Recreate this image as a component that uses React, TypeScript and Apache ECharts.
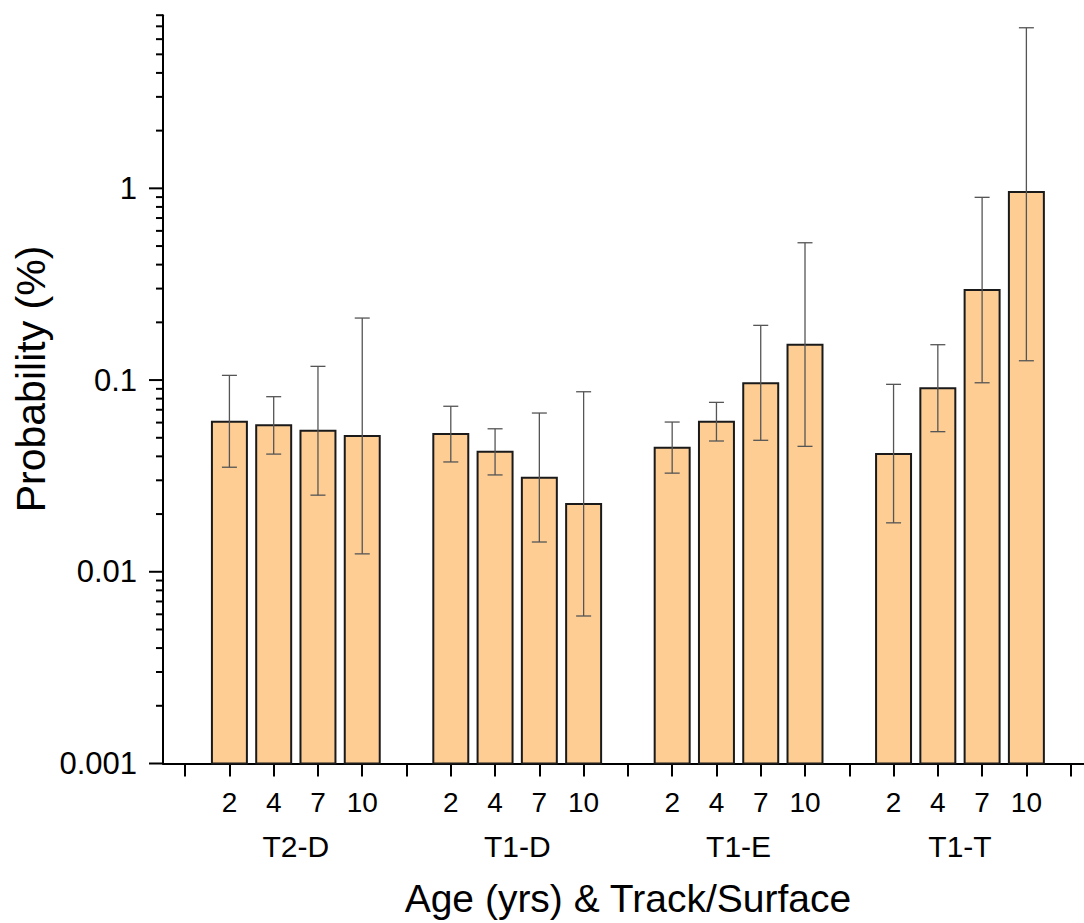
import React, { useEffect, useRef } from "react";
import * as echarts from "echarts";

const groups = ["T2-D", "T1-D", "T1-E", "T1-T"];
const ages = ["2", "4", "7", "10"];

// Probability (%), per group, for ages 2, 4, 7, 10
const meanT2D = [0.0606, 0.0581, 0.0544, 0.0511];
const meanT1D = [0.0523, 0.0423, 0.0309, 0.0226];
const meanT1E = [0.0444, 0.0606, 0.0961, 0.1529];
const meanT1T = [0.0411, 0.0905, 0.2948, 0.9565];

const upperT2D = [0.1058, 0.0819, 0.1179, 0.2106];
const upperT1D = [0.0730, 0.0557, 0.0673, 0.0869];
const upperT1E = [0.0604, 0.0765, 0.1929, 0.5202];
const upperT1T = [0.0950, 0.1529, 0.8977, 6.88];

const lowerT2D = [0.0351, 0.0411, 0.0251, 0.0124];
const lowerT1D = [0.0374, 0.0320, 0.0143, 0.00588];
const lowerT1E = [0.0327, 0.0481, 0.0485, 0.0451];
const lowerT1T = [0.0180, 0.0538, 0.0968, 0.1261];

const means = [meanT2D, meanT1D, meanT1E, meanT1T];
const uppers = [upperT2D, upperT1D, upperT1E, upperT1T];
const lowers = [lowerT2D, lowerT1D, lowerT1E, lowerT1T];

const Y_MIN = 0.001;
const Y_MAX = 8;
const majorTicks = [0.001, 0.01, 0.1, 1];
const minorMultipliers = [2, 3, 4, 5, 6, 7, 8, 9];

const FONT = "'Liberation Sans', Arial, Helvetica, sans-serif";

export default function App() {
  const ref = useRef<HTMLDivElement>(null);

  useEffect(() => {
    if (!ref.current) return;
    const chart = echarts.init(ref.current, undefined, { renderer: "svg" });

    // category slots: separator, 4 ages, separator, ... separator
    const slots: string[] = [];
    groups.forEach(() => {
      slots.push("");
      ages.forEach((a) => slots.push(a));
    });
    slots.push("");

    const barData: number[][] = [];
    const errData: number[][] = [];
    groups.forEach((g, gi) => {
      ages.forEach((a, ai) => {
        const slot = gi * 5 + 1 + ai;
        barData.push([slot, means[gi][ai]]);
        errData.push([slot, lowers[gi][ai], uppers[gi][ai]]);
      });
    });

    const tickData: number[][] = [];
    majorTicks.forEach((m) => {
      tickData.push([0, m, 1]);
      minorMultipliers.forEach((k) => {
        const v = m * k;
        if (v <= Y_MAX * 1.0001) tickData.push([0, v, 0]);
      });
    });

    const groupData = groups.map((g, gi) => [gi * 5 + 2, gi * 5 + 3, Y_MIN]);

    const option: any = {
      animation: false,
      backgroundColor: "#ffffff",
      grid: { left: 163, top: 15.2, width: 929.8, height: 748.3 },
      graphic: [
        {
          type: "text",
          x: 31,
          y: 379,
          rotation: Math.PI / 2,
          style: {
            text: "Probability (%)",
            fill: "#000",
            fontSize: 41,
            fontFamily: FONT,
            align: "center",
            verticalAlign: "middle",
          },
        },
      ],
      xAxis: {
        type: "category",
        data: slots,
        boundaryGap: true,
        name: "Age (yrs) & Track/Surface",
        nameLocation: "middle",
        nameGap: 115,
        nameTextStyle: { fontSize: 39, fontFamily: FONT, color: "#000" },
        axisLine: { show: true, lineStyle: { color: "#000", width: 2 } },
        axisTick: {
          show: true,
          alignWithLabel: true,
          interval: 0,
          length: 13,
          lineStyle: { color: "#000", width: 2 },
        },
        axisLabel: {
          interval: 0,
          margin: 25,
          fontSize: 28,
          fontFamily: FONT,
          color: "#000",
        },
        splitLine: { show: false },
      },
      yAxis: {
        type: "log",
        logBase: 10,
        min: Y_MIN,
        max: Y_MAX,
        axisLine: { show: true, lineStyle: { color: "#000", width: 2 } },
        axisTick: { show: false },
        minorTick: { show: false },
        splitLine: { show: false },
        axisLabel: {
          margin: 26,
          fontSize: 31,
          fontFamily: FONT,
          color: "#000",
          formatter: (v: number) => {
            const l = Math.log10(v);
            if (Math.abs(l - Math.round(l)) > 1e-6) return "";
            return String(Number(v.toPrecision(6)));
          },
        },
      },
      series: [
        {
          type: "custom",
          name: "bars",
          data: barData,
          encode: { x: 0, y: 1 },
          renderItem: (params: any, api: any) => {
            const idx = api.value(0);
            const v = api.value(1);
            const top = api.coord([idx, v]);
            const base = api.coord([idx, Y_MIN]);
            const band = api.coord([1, v])[0] - api.coord([0, v])[0];
            const w = band * 0.79;
            return {
              type: "rect",
              shape: { x: top[0] - w / 2, y: top[1], width: w, height: base[1] - top[1] },
              style: { fill: "#FDCD94", stroke: "#1a1a1a", lineWidth: 2 },
            };
          },
          z: 2,
        },
        {
          type: "custom",
          name: "errors",
          data: errData,
          encode: { x: 0, y: [1, 2] },
          renderItem: (params: any, api: any) => {
            const idx = api.value(0);
            const lo = api.coord([idx, api.value(1)]);
            const hi = api.coord([idx, api.value(2)]);
            const cap = 7.5;
            const st = { stroke: "#555555", lineWidth: 1.3 };
            return {
              type: "group",
              children: [
                { type: "line", shape: { x1: hi[0], y1: hi[1], x2: lo[0], y2: lo[1] }, style: st },
                { type: "line", shape: { x1: hi[0] - cap, y1: hi[1], x2: hi[0] + cap, y2: hi[1] }, style: st },
                { type: "line", shape: { x1: lo[0] - cap, y1: lo[1], x2: lo[0] + cap, y2: lo[1] }, style: st },
              ],
            };
          },
          z: 3,
        },
        {
          type: "custom",
          name: "yticks",
          data: tickData,
          encode: { x: 0, y: 1 },
          silent: true,
          renderItem: (params: any, api: any) => {
            const p = api.coord([0, api.value(1)]);
            const x0 = params.coordSys.x;
            const len = api.value(2) === 1 ? 14 : 7;
            return {
              type: "line",
              shape: { x1: x0 - len, y1: p[1], x2: x0, y2: p[1] },
              style: { stroke: "#000", lineWidth: 2 },
            };
          },
          z: 4,
        },
        {
          type: "custom",
          name: "groups",
          data: groupData,
          encode: { x: [0, 1], y: 2 },
          silent: true,
          renderItem: (params: any, api: any) => {
            const a = api.coord([api.value(0), api.value(2)]);
            const b = api.coord([api.value(1), api.value(2)]);
            const cx = (a[0] + b[0]) / 2;
            const cy = params.coordSys.y + params.coordSys.height + 83;
            return {
              type: "text",
              x: cx,
              y: cy,
              style: {
                text: groups[params.dataIndex],
                fill: "#000",
                fontSize: 30,
                fontFamily: FONT,
                align: "center",
                verticalAlign: "middle",
              },
            };
          },
          z: 4,
        },
      ],
    };

    chart.setOption(option);
    return () => chart.dispose();
  }, []);

  return (
    <div
      style={{
        position: "absolute",
        left: 0,
        top: 0,
        width: 1084,
        height: 923,
        overflow: "hidden",
      }}
    >
      <div ref={ref} style={{ width: 1100, height: 923 }} />
    </div>
  );
}
